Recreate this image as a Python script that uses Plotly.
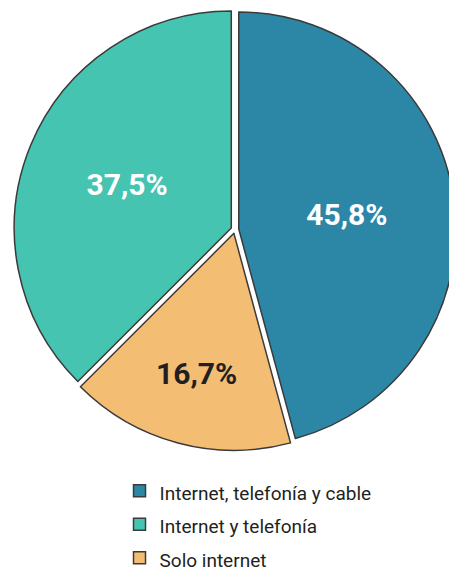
import plotly.graph_objects as go

labels = ["Internet, telefonía y cable", "Internet y telefonía", "Solo internet"]
values = [45.8, 37.5, 16.7]
text_labels = ["45,8%", "37,5%", "16,7%"]
colors = ["#2C87A7", "#45C4B1", "#F3BD74"]
text_colors = ["#FFFFFF", "#FFFFFF", "#231F20"]

FONT = "Roboto, Liberation Sans, sans-serif"
legend_labels = ['<span style="font-size:19px">%s</span>' % s for s in labels]

fig = go.Figure(go.Pie(
    labels=legend_labels,
    values=values,
    text=text_labels,
    textinfo="text",
    textposition="inside",
    insidetextorientation="horizontal",
    insidetextfont=dict(color=text_colors, size=30, family=FONT, weight="bold"),
    marker=dict(colors=colors, line=dict(color="#3a3a3a", width=1.5)),
    sort=False,
    direction="counterclockwise",
    rotation=0,
    pull=[0.018, 0.018, 0.018],
    domain=dict(x=[0.013, 0.980], y=[0.228, 1.0]),
    hoverinfo="skip",
))

fig.update_layout(
    width=457, height=574,
    margin=dict(l=0, r=0, t=0, b=0),
    paper_bgcolor="white",
    plot_bgcolor="white",
    showlegend=True,
    legend=dict(
        x=0.244, y=0.197, xanchor="left", yanchor="top",
        traceorder="normal",
        font=dict(size=23.5, color="#231F20", family=FONT),
        itemwidth=30,
    ),
)

fig.write_html("out.html")
